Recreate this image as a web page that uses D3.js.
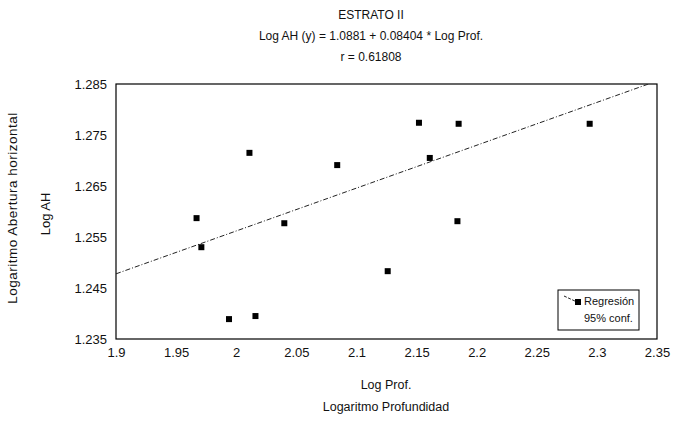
<!DOCTYPE html>
<html>
<head>
<meta charset="utf-8">
<script src="https://cdn.jsdelivr.net/npm/d3@7"></script>
<style>
  html, body { margin: 0; padding: 0; background: #fff; }
  svg { display: block; font-family: "Liberation Sans", Arial, sans-serif; }
</style>
</head>
<body>
<svg id="chart" width="687" height="421"></svg>
<script>
// Observations: log depth (x) and log horizontal opening (y)
const logProf = [1.967, 1.971, 1.994, 2.011, 2.016, 2.040, 2.084, 2.126, 2.152, 2.161, 2.185, 2.184, 2.294];
const logAH   = [1.2587, 1.2530, 1.2389, 1.2715, 1.2395, 1.2577, 1.2691, 1.2483, 1.2774, 1.2705, 1.2772, 1.2581, 1.2772];

// Fitted regression: y = a + b * x
const intercept = 1.0881;
const slope = 0.08404;
const rValue = "0.61808";

const xTicks = [1.9, 1.95, 2, 2.05, 2.1, 2.15, 2.2, 2.25, 2.3, 2.35];
const xTickLabels = ["1.9", "1.95", "2", "2.05", "2.1", "2.15", "2.2", "2.25", "2.3", "2.35"];
const yTicks = [1.235, 1.245, 1.255, 1.265, 1.275, 1.285];
const yTickLabels = ["1.235", "1.245", "1.255", "1.265", "1.275", "1.285"];

const titleLines = [
  "ESTRATO II",
  "Log AH (y) = " + intercept + " + " + slope + " * Log Prof.",
  "r = " + rValue
];
const legendLabels = ["Regresión", "95% conf."];

const svg = d3.select("#chart");
const plotL = 116, plotR = 657, plotT = 84, plotB = 339;

const x = d3.scaleLinear().domain([1.9, 2.35]).range([plotL, plotR]);
const y = d3.scaleLinear().domain([1.235, 1.285]).range([plotB, plotT]);

// Titles
svg.append("g").selectAll("text").data(titleLines).join("text")
  .attr("x", 371).attr("y", (d, i) => 19 + i * 21)
  .attr("text-anchor", "middle")
  .attr("font-size", 12)
  .attr("fill", "#111")
  .text(d => d);

// Axes (labels only, no tick marks)
const xAxis = d3.axisBottom(x).tickValues(xTicks)
  .tickFormat((d, i) => xTickLabels[i]).tickSize(0).tickPadding(9);
const yAxis = d3.axisLeft(y).tickValues(yTicks)
  .tickFormat((d, i) => yTickLabels[i]).tickSize(0).tickPadding(9);

const gx = svg.append("g").attr("transform", `translate(0,${plotB})`).call(xAxis);
const gy = svg.append("g").attr("transform", `translate(${plotL},0)`).call(yAxis);
[gx, gy].forEach(g => {
  g.select(".domain").remove();
  g.selectAll("text").attr("font-size", 13).attr("fill", "#111")
    .attr("font-family", "Liberation Sans, Arial, sans-serif");
});

// Plot frame
svg.append("rect")
  .attr("x", plotL).attr("y", plotT)
  .attr("width", plotR - plotL).attr("height", plotB - plotT)
  .attr("fill", "none").attr("stroke", "#000").attr("stroke-width", 1.2);

// Regression line
const clipId = "plotclip";
svg.append("clipPath").attr("id", clipId).append("rect")
  .attr("x", plotL).attr("y", plotT).attr("width", plotR - plotL).attr("height", plotB - plotT);
const xs = x.domain();
svg.append("line")
  .attr("clip-path", `url(#${clipId})`)
  .attr("x1", x(xs[0])).attr("y1", y(intercept + slope * xs[0]))
  .attr("x2", x(xs[1])).attr("y2", y(intercept + slope * xs[1]))
  .attr("stroke", "#222").attr("stroke-width", 1)
  .attr("stroke-dasharray", "5,2,1,2");

// Points
const pts = logProf.map((v, i) => ({ x: v, y: logAH[i] }));
const s = 6;
svg.append("g").selectAll("rect").data(pts).join("rect")
  .attr("x", d => x(d.x) - s / 2).attr("y", d => y(d.y) - s / 2)
  .attr("width", s).attr("height", s)
  .attr("fill", "#000");

// Axis titles
svg.append("text").attr("x", 386).attr("y", 389)
  .attr("text-anchor", "middle").attr("font-size", 12.5).attr("fill", "#111")
  .text("Log Prof.");
svg.append("text").attr("x", 386).attr("y", 411)
  .attr("text-anchor", "middle").attr("font-size", 12.5).attr("fill", "#111")
  .text("Logaritmo Profundidad");
svg.append("text")
  .attr("transform", "translate(17,208) rotate(-90)")
  .attr("text-anchor", "middle").attr("font-size", 13.5).attr("letter-spacing", 0.5)
  .attr("fill", "#111")
  .text("Logaritmo Abertura horizontal");
svg.append("text")
  .attr("transform", "translate(50,214) rotate(-90)")
  .attr("text-anchor", "middle").attr("font-size", 13).attr("fill", "#111")
  .text("Log AH");

// Legend
const lg = svg.append("g").attr("transform", "translate(558,290)");
lg.append("rect").attr("width", 81).attr("height", 40)
  .attr("fill", "#fff").attr("stroke", "#000").attr("stroke-width", 1);
lg.append("line").attr("x1", 6).attr("y1", 6).attr("x2", 19).attr("y2", 12)
  .attr("stroke", "#222").attr("stroke-width", 1).attr("stroke-dasharray", "3,1.5");
lg.append("rect").attr("x", 17).attr("y", 9).attr("width", 6).attr("height", 6).attr("fill", "#000");
lg.selectAll("text.lab").data(legendLabels).join("text")
  .attr("class", "lab")
  .attr("x", 26).attr("y", (d, i) => 15 + i * 17)
  .attr("text-anchor", "start").attr("font-size", 11).attr("fill", "#111")
  .text(d => d);
</script>
</body>
</html>
